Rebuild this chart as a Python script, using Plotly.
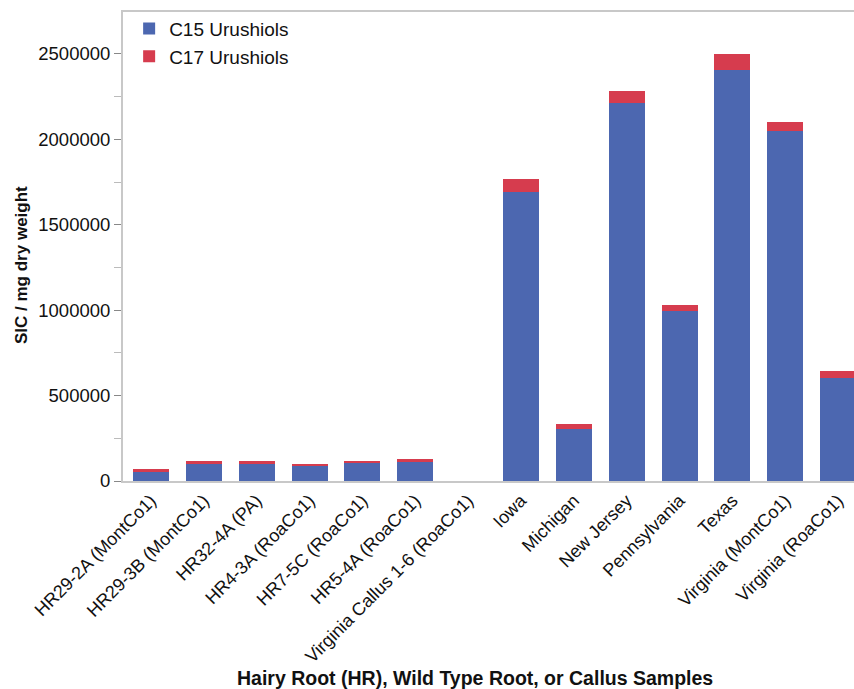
import plotly.graph_objects as go

# Sample labels along the x axis
samples = [
    "HR29-2A (MontCo1)",
    "HR29-3B (MontCo1)",
    "HR32-4A (PA)",
    "HR4-3A (RoaCo1)",
    "HR7-5C (RoaCo1)",
    "HR5-4A (RoaCo1)",
    "Virginia Callus 1-6 (RoaCo1)",
    "Iowa",
    "Michigan",
    "New Jersey",
    "Pennsylvania",
    "Texas",
    "Virginia (MontCo1)",
    "Virginia (RoaCo1)",
]

# SIC per mg dry weight for each urushiol class
c15_urushiols = [55500, 102000, 102000, 90000, 108000, 114000, 0,
                 1693000, 307000, 2213000, 997000, 2406000, 2050000, 605000]
c17_urushiols = [17500, 18000, 18000, 12000, 12000, 12000, 0,
                 76000, 29000, 71000, 35000, 94000, 52000, 41000]

# y-axis tick positions / labels
y_ticks = [0, 500000, 1000000, 1500000, 2000000, 2500000]
y_tick_text = ["0", "500000", "1000000", "1500000", "2000000", "2500000"]
y_minor_ticks = [250000, 750000, 1250000, 1750000, 2250000]

BLUE = "#4c67b0"
RED = "#d63c4e"
AXIS_GRAY = "#c8c8c8"
FONT = "Liberation Sans, Arial, sans-serif"

# plot-area geometry in pixels
W, H = 854, 689
M_L, M_R, M_T, M_B = 123, 0, 12, 208
PLOT_W = W - M_L - M_R
PLOT_H = H - M_T - M_B


def px_to_paper_x(px):
    return (px - M_L) / PLOT_W


def px_to_paper_y(py):
    return (H - M_B - py) / PLOT_H


fig = go.Figure()
fig.add_trace(go.Bar(x=samples, y=c15_urushiols, name="C15 Urushiols",
                     marker=dict(color=BLUE, line=dict(width=0))))
fig.add_trace(go.Bar(x=samples, y=c17_urushiols, name="C17 Urushiols",
                     marker=dict(color=RED, line=dict(width=0))))

fig.update_layout(
    width=W,
    height=H,
    barmode="stack",
    bargap=0.32,
    plot_bgcolor="white",
    paper_bgcolor="white",
    font=dict(family=FONT, size=18, color="#111111"),
    margin=dict(l=M_L, r=M_R, t=M_T, b=M_B),
    legend=dict(
        x=0.0084, y=1.005, xanchor="left", yanchor="top",
        bgcolor="rgba(0,0,0,0)",
        font=dict(size=19, family=FONT),
        tracegroupgap=0,
        traceorder="normal",
        itemwidth=30,
    ),
    showlegend=True,
    annotations=[
        dict(text="<b>Hairy Root (HR), Wild Type Root, or Callus Samples</b>",
             xref="paper", yref="paper",
             x=px_to_paper_x(474.5), y=px_to_paper_y(678),
             xanchor="center", yanchor="middle", showarrow=False,
             font=dict(size=19.5, family=FONT, color="#111111")),
        dict(text="<b>SIC / mg dry weight</b>",
             xref="paper", yref="paper",
             x=px_to_paper_x(21), y=px_to_paper_y(265),
             xanchor="center", yanchor="middle", showarrow=False,
             textangle=-90,
             font=dict(size=17, family=FONT, color="#111111")),
    ],
)

fig.update_xaxes(
    range=[-0.53, 13.3],
    automargin=False,
    tickangle=-45,
    showline=True,
    linecolor=AXIS_GRAY,
    linewidth=2,
    mirror=True,
    ticks="",
    showgrid=False,
    tickfont=dict(size=18, family=FONT),
)

fig.update_yaxes(
    range=[0, 2745000],
    automargin=False,
    showline=True,
    linecolor=AXIS_GRAY,
    linewidth=2,
    showgrid=False,
    zeroline=False,
    ticks="outside",
    ticklen=7,
    tickwidth=1,
    tickcolor="#888888",
    tickvals=y_ticks,
    ticktext=y_tick_text,
    minor=dict(tickvals=y_minor_ticks,
               ticks="outside", ticklen=7, tickcolor="#bbbbbb"),
    tickfont=dict(size=18.5, family=FONT),
)

fig.write_html("out.html")
